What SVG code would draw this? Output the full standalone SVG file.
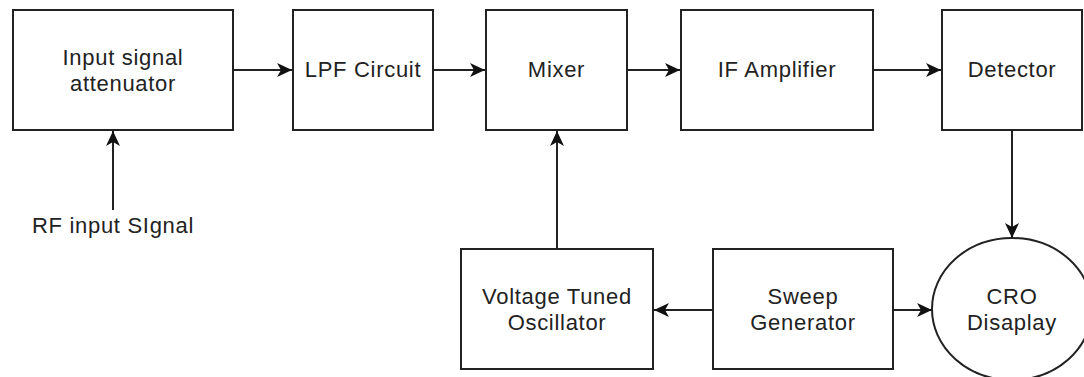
<svg xmlns="http://www.w3.org/2000/svg" width="1084" height="377" viewBox="0 0 1084 377">
<style>
.box{fill:#fff;stroke:#222;stroke-width:2}
.t{font-family:"Liberation Sans",Arial,sans-serif;font-size:22px;fill:#222;text-anchor:middle;letter-spacing:0.7px}
.c{fill:none;stroke:#222;stroke-width:2;marker-end:url(#arr)}
</style>
<defs>
<marker id="arr" markerUnits="userSpaceOnUse" markerWidth="16" markerHeight="16" refX="15" refY="7" orient="auto">
<path d="M0,0 L15,7 L0,14 L4,7 Z" fill="#111"/>
</marker>
</defs>
<rect width="1084" height="377" fill="#fff"/>
<g id="n1"><rect class="box" x="13" y="10" width="220" height="120"/><text class="t" x="123" y="64.5">Input signal</text><text class="t" x="123" y="90.5">attenuator</text></g>
<g id="n2"><rect class="box" x="293" y="10" width="140" height="120"/><text class="t" x="363" y="77">LPF Circuit</text></g>
<g id="n3"><rect class="box" x="486" y="10" width="141" height="120"/><text class="t" x="556.5" y="77">Mixer</text></g>
<g id="n4"><rect class="box" x="681" y="10" width="192" height="120"/><text class="t" x="777" y="77">IF Amplifier</text></g>
<g id="n5"><rect class="box" x="942" y="10" width="140" height="120"/><text class="t" x="1012" y="77">Detector</text></g>
<g id="n6"><rect class="box" x="461" y="249" width="192" height="120"/><text class="t" x="557" y="304">Voltage Tuned</text><text class="t" x="557" y="330">Oscillator</text></g>
<g id="n7"><rect class="box" x="713" y="249" width="180" height="120"/><text class="t" x="803" y="304">Sweep</text><text class="t" x="803" y="330">Generator</text></g>
<g id="n8"><ellipse class="box" cx="1012" cy="309" rx="80" ry="71"/><text class="t" x="1012" y="304">CRO</text><text class="t" x="1012" y="330">Disaplay</text></g>
<g id="n9"><text class="t" x="113" y="233">RF input SIgnal</text></g>
<g id="connectors">
<path class="c" d="M233,70 H292"/>
<path class="c" d="M433,70 H485"/>
<path class="c" d="M627,70 H680"/>
<path class="c" d="M873,70 H941"/>
<path class="c" d="M1012,130 V238"/>
<path class="c" d="M557,249 V131"/>
<path class="c" d="M113,210 V131"/>
<path class="c" d="M713,310 H654"/>
<path class="c" d="M893,310 H932"/>
</g>
</svg>
